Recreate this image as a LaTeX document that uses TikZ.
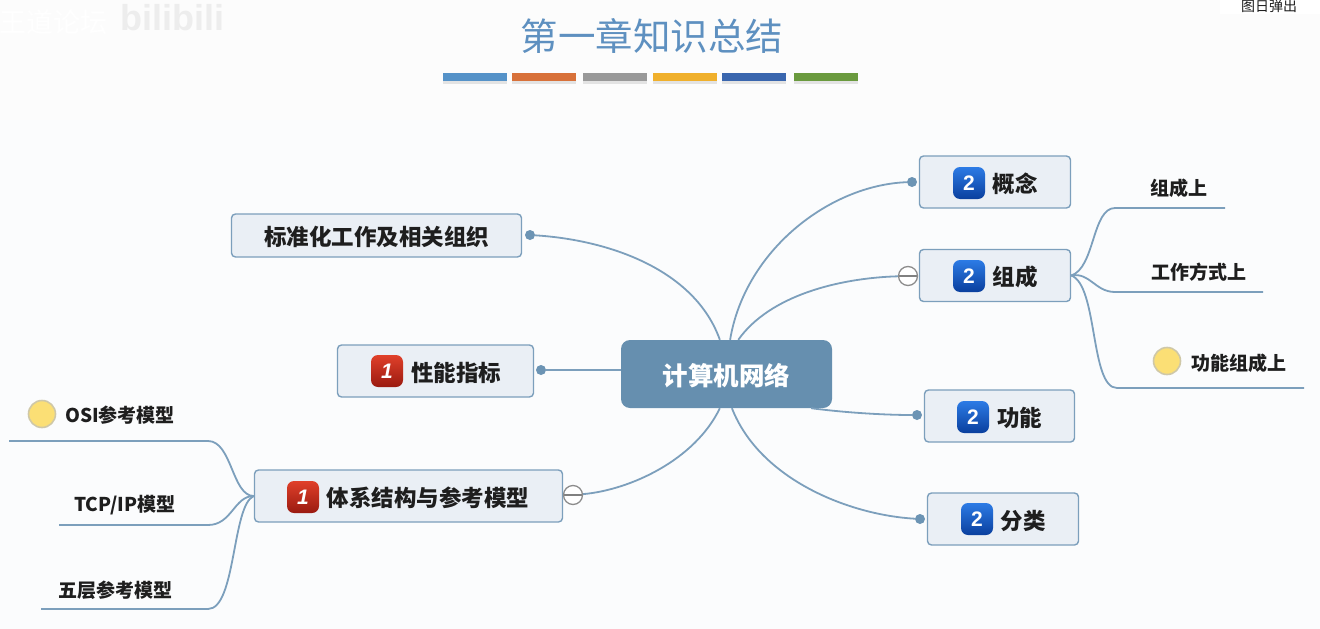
\documentclass[tikz,border=0pt]{standalone}
\usepackage{fontspec}
\setmainfont{Noto Sans CJK SC}
\newfontfamily\markfont{Liberation Sans}
\usetikzlibrary{shadows}
\definecolor{linec}{HTML}{7C9FBC}
\definecolor{boxc}{HTML}{EAEFF5}
\definecolor{netc}{HTML}{668FAF}
\definecolor{dotc}{HTML}{6C94B4}
\definecolor{titlec}{HTML}{5E90C0}
\definecolor{textc}{HTML}{1E1E1E}
\definecolor{backc}{HTML}{FBFCFD}
\definecolor{flagc}{HTML}{FBDF75}
\definecolor{flagl}{HTML}{CFC8A8}
\definecolor{bluet}{HTML}{2C7BE5}
\definecolor{blueb}{HTML}{0A3F9E}
\definecolor{redt}{HTML}{E0402A}
\definecolor{redb}{HTML}{9A1A10}
\definecolor{bar1}{HTML}{5592C8}
\definecolor{bar2}{HTML}{D8713A}
\definecolor{bar3}{HTML}{999999}
\definecolor{bar4}{HTML}{F0B02C}
\definecolor{bar5}{HTML}{3A66AE}
\definecolor{bar6}{HTML}{6A9A3E}
\begin{document}
\begin{tikzpicture}
  [x=1pt,y=-1pt,
   every node/.style={inner sep=0pt,text=textc},
   barbox/.style={minimum width=64pt,minimum height=8pt,drop shadow={shadow xshift=0pt,shadow yshift=-2.5pt,opacity=.2}},
   topic/.style={rectangle,rounded corners=4pt,draw=linec,line width=1.4pt,fill=boxc,minimum height=52pt,text height=20.8pt,text depth=0pt,font=\fontsize{22.5}{24}\selectfont\bfseries},
   leaf/.style={font=\fontsize{19}{21}\selectfont\bfseries},
   dotend/.style={circle,fill=dotc,minimum size=10pt},
   minusend/.style={circle,draw=gray!90,fill=white,line width=1.3pt,minimum size=19pt,path picture={\draw[gray,line width=1.6pt] (path picture bounding box.west) -- (path picture bounding box.east);}},
   badge/.style={rectangle,rounded corners=7pt,minimum size=32pt,text=white},
   bluebadge/.style={badge,top color=bluet,bottom color=blueb,font=\markfont\fontsize{21}{23}\selectfont\bfseries},
   redbadge/.style={badge,top color=redt,bottom color=redb,font=\markfont\fontsize{21}{23}\selectfont\bfseries\itshape},
   flag/.style={circle,draw=flagl,fill=flagc,line width=1.6pt,minimum size=27pt},
   branch/.style={draw=linec,line width=1.8pt}]
  \useasboundingbox (0,0) rectangle (1320,629);
  \fill[white!98!gray] (0,0) rectangle (1320,120);
  \fill[backc] (0,120) rectangle (1320,629);

  %Marcas de la captura
  \node[text=white,font=\fontsize{27}{29}\selectfont] (w1) at (53,22) {王道论坛};
  \node[text=black!7,font=\markfont\fontsize{36}{38}\selectfont\bfseries] (w2) at (172,18) {bilibili};
  \fill[white] (1220,0) rectangle (1320,14);
  \node[font=\fontsize{14}{16}\selectfont] (w3) at (1269,6.5) {图日弹出};

  \node[text=titlec,font=\fontsize{37.5}{40}\selectfont] (t0) at (652,36) {第一章知识总结};
  \node[barbox,fill=bar1] (b1) at (475,77) {};
  \node[barbox,fill=bar2] (b2) at (544,77) {};
  \node[barbox,fill=bar3] (b3) at (615,77) {};
  \node[barbox,fill=bar4] (b4) at (685,77) {};
  \node[barbox,fill=bar5] (b5) at (754,77) {};
  \node[barbox,fill=bar6] (b6) at (826,77) {};

  \node[rectangle,rounded corners=9pt,fill=netc,minimum width=211pt,minimum height=68pt,text height=22.4pt,text depth=0pt,text=white,font=\fontsize{25.5}{28}\selectfont\bfseries] (net) at (726.5,374) {计算机网络};

  \node[topic,minimum width=151pt] (n1) at (995,182) {\hspace*{40pt}概念};
  \node[topic,minimum width=151pt] (n2) at (995,275.5) {\hspace*{40pt}组成};
  \node[topic,minimum width=150pt] (n3) at (999.5,416) {\hspace*{40pt}功能};
  \node[topic,minimum width=151pt] (n4) at (1003,519) {\hspace*{40pt}分类};
  \node[topic,minimum width=290pt,minimum height=43pt] (n5) at (376.5,235.5) {标准化工作及相关组织};
  \node[topic,minimum width=196pt] (n6) at (435.5,371) {\hspace*{41pt}性能指标};
  \node[topic,minimum width=308pt] (n7) at (408.5,496) {\hspace*{39pt}体系结构与参考模型};

  \node[bluebadge] (i1) at (969,183) {2};
  \node[bluebadge] (i2) at (969,276) {2};
  \node[bluebadge] (i3) at (973,417) {2};
  \node[bluebadge] (i4) at (977,519) {2};
  \node[redbadge] (i6) at (387,371) {1};
  \node[redbadge] (i7) at (303,497) {1};

  \node[dotend] (d1) at (912,182) {};
  \node[minusend] (m2) at (908,276) {};
  \node[dotend] (d3) at (917,415) {};
  \node[dotend] (d4) at (920,519) {};
  \node[dotend] (d5) at (530,235) {};
  \node[dotend] (d6) at (541,370) {};
  \node[minusend] (m7) at (573,495) {};

  \draw[branch] (net.84) .. controls (745,250) and (830,185) .. (d1);
  \draw[branch] (net.71) .. controls (770,295) and (840,278) .. (m2);
  \draw[branch] (net.-22) .. controls (840,412) and (880,415) .. (d3);
  \draw[branch] (net.-81) .. controls (760,480) and (850,515) .. (d4);
  \draw[branch] (net.101) .. controls (695,270) and (610,240) .. (d5);
  \draw[branch] (net.west|-d6) -- (d6);
  \draw[branch] (net.-101) .. controls (695,460) and (630,490) .. (m7);

  \node[leaf] (c1) at (1179,188) {组成上};
  \node[leaf] (c2) at (1199,272) {工作方式上};
  \node[leaf] (c3) at (1239,363) {功能组成上};
  \node[leaf] (c4) at (120,415) {OSI参考模型};
  \node[leaf] (c5) at (125,505) {TCP/IP模型};
  \node[leaf] (c6) at (115,590) {五层参考模型};
  \node[flag] (f3) at (1167,361) {};
  \node[flag] (f4) at (42,414) {};

  \coordinate (e1) at (1225,208);
  \coordinate (e2) at (1263,292);
  \coordinate (e3) at (1304,388);
  \coordinate (e4) at (9,441);
  \coordinate (e5) at (59,525);
  \coordinate (e6) at (41,609);

  \draw[branch] (n2.east) .. controls (1095,268) and (1092,208) .. (1115,208) -- (e1);
  \draw[branch] (n2.east) .. controls (1090,272) and (1095,292) .. (1115,292) -- (e2);
  \draw[branch] (n2.east) .. controls (1098,285) and (1090,388) .. (1117,388) -- (e3);
  \draw[branch] (n7.west) .. controls (232,496) and (232,441) .. (208,441) -- (e4);
  \draw[branch] (n7.west) .. controls (234,496) and (232,525) .. (208,525) -- (e5);
  \draw[branch] (n7.west) .. controls (232,505) and (236,609) .. (208,609) -- (e6);
\end{tikzpicture}
\end{document}
